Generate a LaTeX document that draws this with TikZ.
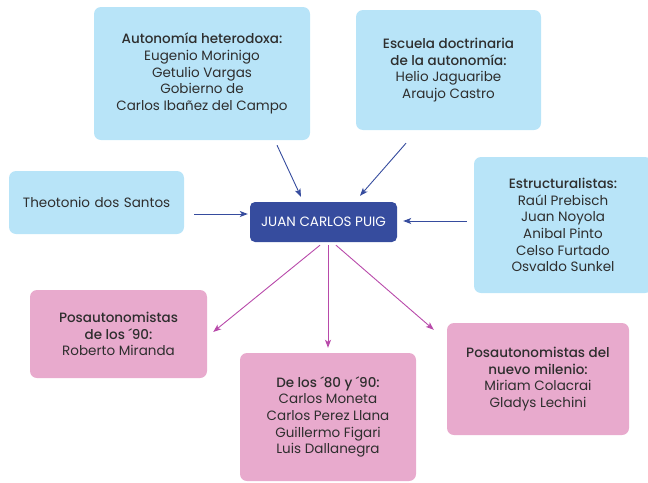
\documentclass[tikz,border=0pt]{standalone}
\usepackage{fontspec}
\setmainfont{Poppins}[BoldFont={Poppins Medium}]
\usetikzlibrary{arrows.meta}
\definecolor{skyblue}{HTML}{B8E4F8}
\definecolor{rosepink}{HTML}{E8AACD}
\definecolor{royalblue}{HTML}{364C9E}
\definecolor{orchid}{HTML}{B84AAA}
\definecolor{inkgray}{HTML}{2E2E2E}

\begin{document}
\begin{tikzpicture}[x=1pt,y=-1pt,
  box/.style={rectangle,rounded corners=7pt,align=center,text=inkgray,
    font=\fontsize{13.5}{16.7}\selectfont,inner sep=0pt},
  bluebox/.style={box,fill=skyblue},
  pinkbox/.style={box,fill=rosepink},
  bluearrow/.style={-{Stealth[length=8pt,width=6pt,inset=2pt]},color=royalblue,line width=0.9pt},
  pinkarrow/.style={-{Stealth[length=8pt,width=6pt,inset=2pt]},color=orchid,line width=0.9pt}]
\useasboundingbox (0,0) rectangle (648,482);
\clip (0,0) rectangle (648,482);
% upper boxes
\node[bluebox,minimum width=216pt,minimum height=133pt] (auto) at (202,73.5)
  {\textbf{Autonomía heterodoxa:}\\Eugenio Morinigo\\Getulio Vargas\\Gobierno de\\Carlos Ibañez del Campo};
\node[bluebox,minimum width=185pt,minimum height=120pt] (escuela) at (448.5,70)
  {\textbf{Escuela doctrinaria}\\\textbf{de la autonomía:}\\Helio Jaguaribe\\Araujo Castro};
\node[bluebox,minimum width=175pt,minimum height=63pt,text width=147pt,align=left] (theo) at (96.5,202.5)
  {\mbox{Theotonio dos Santos}\\[6pt]};
\node[bluebox,minimum width=178pt,minimum height=136pt] (estruct) at (563,225)
  {\textbf{Estructuralistas:}\\Raúl Prebisch\\Juan Noyola\\Anibal Pinto\\Celso Furtado\\Osvaldo Sunkel};
% centre
\node[box,fill=royalblue,text=white,rounded corners=5pt,minimum width=147pt,minimum height=40pt] (puig) at (323.5,222)
  {JUAN CARLOS PUIG};
% lower boxes
\node[pinkbox,minimum width=177pt,minimum height=88pt] (pos90) at (118.5,334)
  {\textbf{Posautonomistas}\\\textbf{de los ´90:}\\Roberto Miranda};
\node[pinkbox,minimum width=176pt,minimum height=128pt] (d8090) at (328,417)
  {\textbf{De los ´80 y ´90:}\\Carlos Moneta\\Carlos Perez Llana\\Guillermo Figari\\Luis Dallanegra};
\node[pinkbox,minimum width=182pt,minimum height=112pt] (milenio) at (538,379)
  {\textbf{Posautonomistas del}\\\textbf{nuevo milenio:}\\Miriam Colacrai\\Gladys Lechini};
% arrows
\draw[bluearrow] ([xshift=75pt,yshift=-5pt]auto.south) -- ([xshift=-22.5pt,yshift=5pt]puig.north);
\draw[bluearrow] ([xshift=-42.5pt,yshift=-13pt]escuela.south) -- ([xshift=36.5pt,yshift=6pt]puig.north);
\draw[bluearrow] ([xshift=10pt,yshift=-11.5pt]theo.east) -- ([xshift=-2pt,yshift=8pt]puig.west);
\draw[bluearrow] ([xshift=-7pt,yshift=4pt]estruct.west) -- ([xshift=6pt,yshift=1pt]puig.east);
\draw[pinkarrow] ([xshift=-3.5pt,yshift=-3pt]puig.south) -- ([xshift=6pt,yshift=2pt]pos90.east);
\draw[pinkarrow] ([xshift=4.5pt,yshift=-3pt]puig.south) -- ([yshift=5pt]d8090.north);
\draw[pinkarrow] ([xshift=12.5pt,yshift=-3pt]puig.south) -- ([xshift=-13pt,yshift=-7pt]milenio.north west);
\end{tikzpicture}
\end{document}
